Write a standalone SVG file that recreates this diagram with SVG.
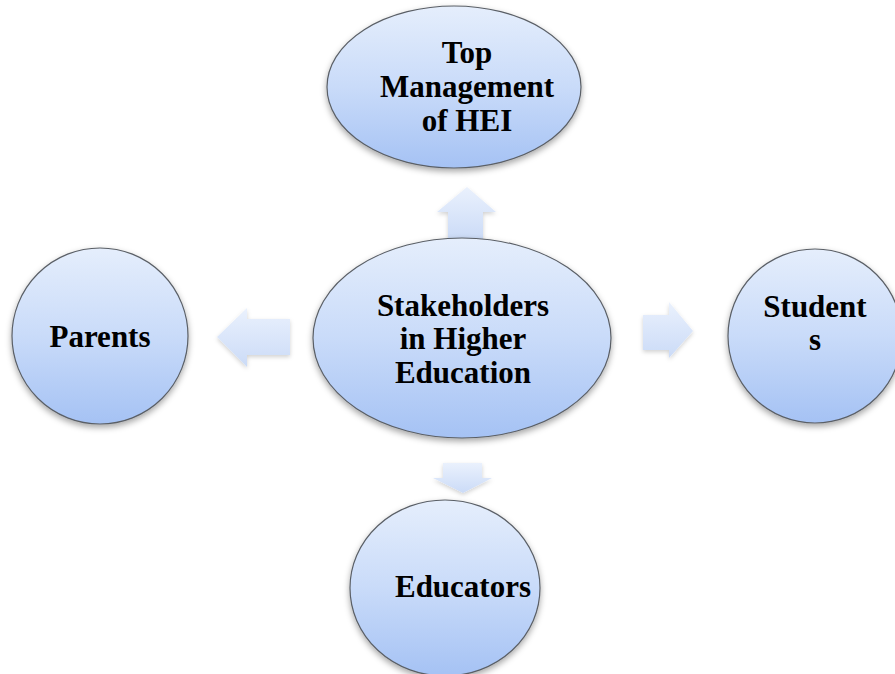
<svg xmlns="http://www.w3.org/2000/svg" width="895" height="674" viewBox="0 0 895 674">
<defs>
<linearGradient id="ng" x1="0" y1="0" x2="0" y2="1">
<stop offset="0" stop-color="#e5eefc"/>
<stop offset="0.5" stop-color="#c9dbf9"/>
<stop offset="1" stop-color="#a5c2f4"/>
</linearGradient>
<linearGradient id="ag" x1="0" y1="0" x2="0" y2="1">
<stop offset="0" stop-color="#eaf1fd"/>
<stop offset="1" stop-color="#cbdbf7"/>
</linearGradient>
<filter id="sh" x="-20%" y="-20%" width="140%" height="140%">
<feDropShadow dx="0" dy="3" stdDeviation="3" flood-color="#000" flood-opacity="0.35"/>
</filter>
<filter id="ash" x="-30%" y="-30%" width="160%" height="160%">
<feDropShadow dx="0" dy="2" stdDeviation="2" flood-color="#000" flood-opacity="0.18"/>
</filter>
</defs>
<style>
.node{fill:url(#ng);stroke:#5a5f66;stroke-width:1.2;filter:url(#sh)}
.arr{fill:url(#ag);stroke:none;filter:url(#ash)}
.lbl{font-family:"Liberation Serif","Times New Roman",serif;font-weight:bold;font-size:31px;fill:#000;text-anchor:middle}
</style>
<rect width="895" height="674" fill="#fff"/>
<g id="connectors">
<polygon class="arr" points="467,187 496,212 483,212 483,240 448,240 448,212 437,212"/>
<polygon class="arr" points="217,337 247,308 247,319 290,319 290,355 247,355 247,367"/>
<polygon class="arr" points="693,331 669,302 669,315 643,315 643,350 669,350 669,358"/>
<polygon class="arr" points="463,493 492,478 482,478 482,463 443,463 443,478 433,478"/>
</g>
<g id="top">
<ellipse class="node" cx="454" cy="87" rx="127" ry="81"/>
<text class="lbl" x="467" y="63">Top</text>
<text class="lbl" x="467" y="97">Management</text>
<text class="lbl" x="467" y="131">of HEI</text>
</g>
<g id="center">
<ellipse class="node" cx="462" cy="338" rx="149" ry="100"/>
<text class="lbl" x="463" y="316">Stakeholders</text>
<text class="lbl" x="463" y="349">in Higher</text>
<text class="lbl" x="463" y="383">Education</text>
</g>
<g id="parents">
<circle class="node" cx="100" cy="336" r="88"/>
<text class="lbl" x="100" y="347">Parents</text>
</g>
<g id="students">
<circle class="node" cx="815" cy="336" r="87"/>
<text class="lbl" x="815" y="317">Student</text>
<text class="lbl" x="815" y="350">s</text>
</g>
<g id="educators">
<ellipse class="node" cx="445" cy="588" rx="95" ry="88"/>
<text class="lbl" x="463" y="597">Educators</text>
</g>
</svg>
